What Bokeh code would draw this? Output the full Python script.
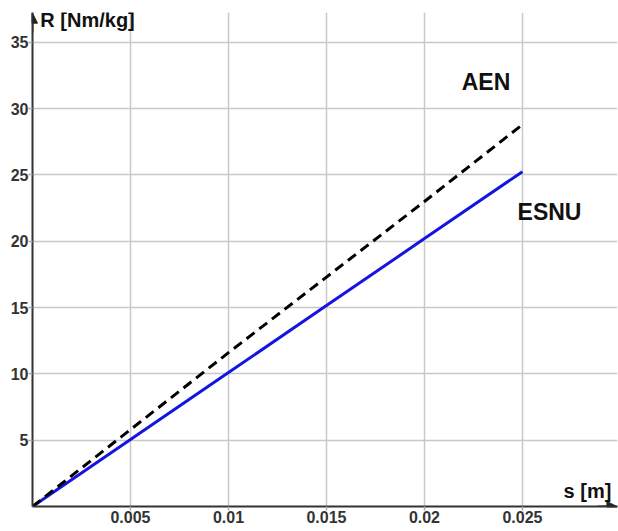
from bokeh.plotting import figure
from bokeh.models import Range1d, FixedTicker, Label, Arrow, NormalHead
from bokeh.embed import file_html
from bokeh.resources import INLINE

# Data
s_vals = [0.0, 0.005, 0.01, 0.015, 0.02, 0.025]
aen_vals = [0.0, 5.8, 11.6, 17.3, 23.0, 28.8]
esnu_vals = [0.0, 5.05, 10.1, 15.15, 20.2, 25.25]
x_ticks = [0.005, 0.01, 0.015, 0.02, 0.025]
x_tick_labels = ["0.005", "0.01", "0.015", "0.02", "0.025"]
y_ticks = [5, 10, 15, 20, 25, 30, 35]

X_END = 0.02985
Y_END = 37.25

p = figure(width=618, height=531, output_backend="svg", toolbar_location=None,
           x_range=Range1d(0, X_END), y_range=Range1d(0, Y_END),
           min_border_left=32, min_border_right=1, min_border_top=12,
           min_border_bottom=25)
p.outline_line_color = None
p.background_fill_color = "white"

for ax in (p.xaxis[0], p.yaxis[0]):
    ax.axis_line_color = "#333333"
    ax.axis_line_width = 2
    ax.major_tick_line_color = "#aaaaaa"
    ax.major_tick_line_width = 1.5
    ax.major_tick_in = 0
    ax.major_tick_out = 4
    ax.minor_tick_line_color = None
    ax.major_label_text_font = "Liberation Sans"
    ax.major_label_text_font_style = "bold"
    ax.major_label_text_font_size = "16px"
    ax.major_label_text_color = "#333333"

p.xaxis.ticker = FixedTicker(ticks=x_ticks)
p.xaxis.major_label_overrides = {t: l for t, l in zip(x_ticks, x_tick_labels)}
p.xaxis.major_label_standoff = 0
p.yaxis.ticker = FixedTicker(ticks=y_ticks)
p.yaxis.major_label_standoff = 0

p.xgrid.grid_line_color = "#c8c8c8"
p.ygrid.grid_line_color = "#c8c8c8"
p.xgrid.grid_line_width = 1.5
p.ygrid.grid_line_width = 1.5

p.line(s_vals, esnu_vals, line_color="#1515e0", line_width=3)
p.line(s_vals, aen_vals, line_color="black", line_width=3, line_dash="10 6")

# axis arrow heads
p.add_layout(Arrow(end=NormalHead(size=10, fill_color="#222222", line_color="#222222"),
                   x_start=0, y_start=Y_END - 1.5, x_end=0, y_end=Y_END - 0.05,
                   line_color="#333333", line_width=2))
p.add_layout(Arrow(end=NormalHead(size=10, fill_color="#222222", line_color="#222222"),
                   x_start=X_END - 0.001, y_start=0, x_end=X_END - 0.00003, y_end=0,
                   line_color="#333333", line_width=2))

def lab(x, y, t, size):
    p.add_layout(Label(x=x, y=y, text=t, text_font="Liberation Sans",
                       text_font_style="bold", text_font_size=size,
                       text_color="#111111", text_baseline="middle"))

lab(0.0004, 36.7, "R [Nm/kg]", "20px")
lab(0.0271, 1.2, "s [m]", "20px")
lab(0.0219, 32.0, "AEN", "23px")
lab(0.02475, 22.2, "ESNU", "23px")

open("out.html", "w").write(file_html(p, INLINE))
